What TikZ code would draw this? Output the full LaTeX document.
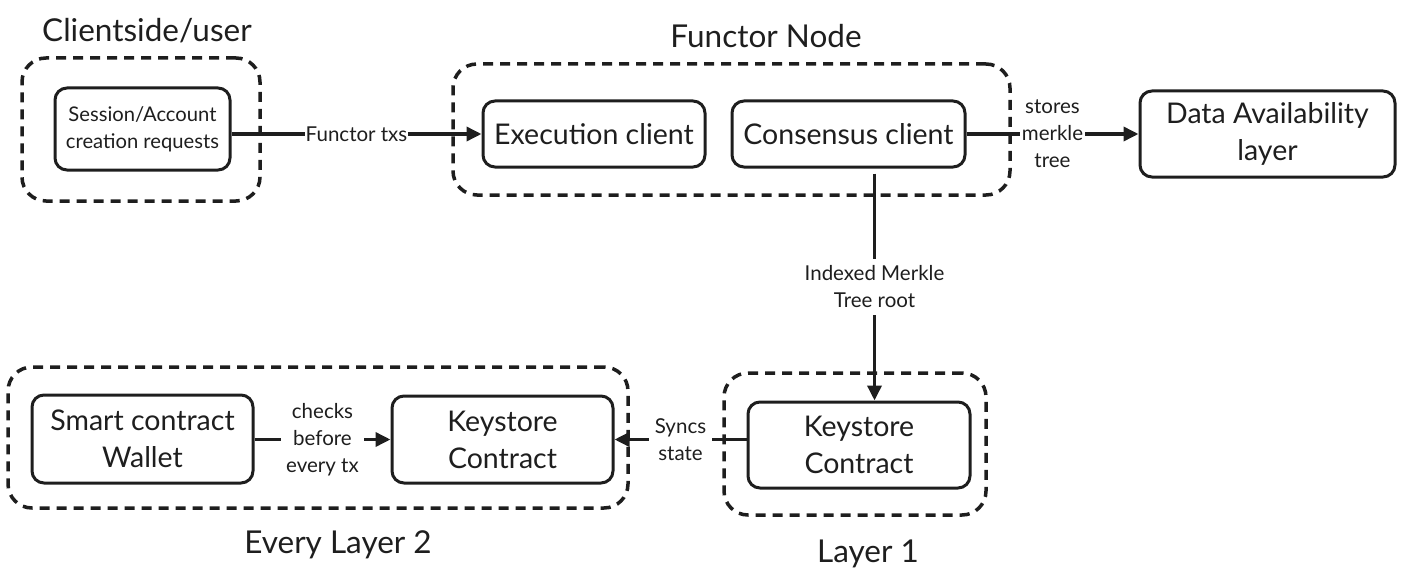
\documentclass[tikz,border=0pt]{standalone}
\usepackage{fontspec}
\setmainfont{Lato}
\usetikzlibrary{arrows.meta,positioning}
\definecolor{inkColor}{HTML}{1E1E1E}
\tikzset{
	box/.style={draw=inkColor, line width=3pt, rounded corners=12pt, text=inkColor,
		align=center, inner sep=0, font=\fontsize{28.5}{37}\selectfont},
	group/.style={draw=inkColor, line width=3.5pt, dash pattern=on 10pt off 7pt,
		rounded corners=24pt, inner sep=0},
	title/.style={text=inkColor, anchor=base, font=\fontsize{31.5}{34}\selectfont},
	lab/.style={fill=white, text=inkColor, align=center, inner sep=2pt,
		font=\fontsize{20.5}{27}\selectfont}
}

\begin{document}
\begin{tikzpicture}[x=1pt, y=-1pt, >={Triangle[length=15pt,width=14pt]},
				line width=3.5pt, draw=inkColor]
				\useasboundingbox (0,0) rectangle (1405,583);
				% groups
				\node[group, minimum width=238pt, minimum height=143pt] (client) at (141, 129.5) {};
				\node[group, minimum width=557pt, minimum height=131pt] (functor) at (731.5, 129.5) {};
				\node[group, minimum width=620pt, minimum height=141pt] (l2) at (318, 437.5) {};
				\node[group, minimum width=262pt, minimum height=142pt] (l1) at (855, 444) {};
				\node[title] (clientTitle) at (147, 42) {Clientside/user};
				\node[title] (functorTitle) at (766, 48) {Functor Node};
				\node[title] (l2Title) at (338, 553) {Every Layer 2};
				\node[title] (l1Title) at (868, 562) {Layer 1};
				% boxes
				\node[box, minimum width=175pt, minimum height=82pt, font=\fontsize{20.2}{27}\selectfont] (session) at (142.5, 129) {Session/Account\\creation requests};
				\node[box, minimum width=222pt, minimum height=66pt] (exec) at (594, 134) {Execution client};
				\node[box, minimum width=233pt, minimum height=66pt] (cons) at (848.5, 134) {Consensus client};
				\node[box, minimum width=255pt, minimum height=86pt] (da) at (1267.5, 134) {Data Availability\\layer};
				\node[box, minimum width=221pt, minimum height=88pt] (wallet) at (142.5, 439) {Smart contract\\Wallet};
				\node[box, minimum width=221pt, minimum height=87pt] (ks2) at (502.5, 439.5) {Keystore\\Contract};
				\node[box, minimum width=222pt, minimum height=86pt] (ks1) at (859, 445) {Keystore\\Contract};
				% arrows
				\coordinate (imt) at ([xshift=26pt, yshift=-5pt]cons.south);
				\path (session.east |- exec.west) edge[->] node[lab, inner sep=1pt] {Functor txs} (exec.west);
				\path (cons.east) edge[->] node[lab] {stores\\merkle\\tree} (da.west);
				\path (imt) edge[->] node[lab, inner ysep=7pt] {Indexed Merkle\\Tree root} (imt |- ks1.north);
				\path (wallet.east |- ks2.west) edge[->] node[lab, inner xsep=5pt] {checks\\before\\every tx} (ks2.west);
				\path (ks1.west |- ks2.east) edge[->] node[lab, inner xsep=6pt] {Syncs\\state} (ks2.east);
			\end{tikzpicture}
\end{document}
